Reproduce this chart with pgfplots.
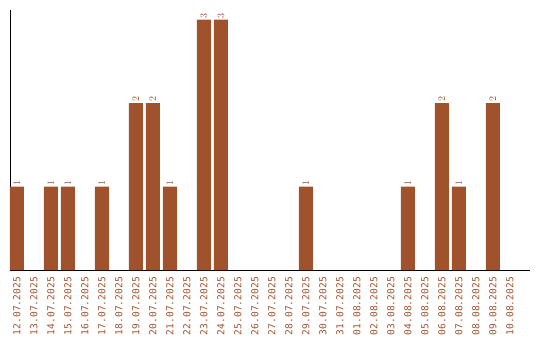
\documentclass[border=0pt]{standalone}
\usepackage{pgfplots}
\pgfplotsset{compat=1.18}
\usepackage{fontspec}
\setmonofont{DejaVu Sans Mono}
\definecolor{barc}{HTML}{A0522D}
\begin{document}
\begin{tikzpicture}
\path[use as bounding box] (-10pt,-70pt) rectangle (530pt,270pt);
\begin{axis}[
  at={(0,0)}, anchor=south west,
  scale only axis, width=520pt, height=260pt,
  xmin=-0.41, xmax=30.18, ymin=0, ymax=3.115,
  axis x line=bottom, axis y line=left,
  axis line style={-, black, line width=1pt},
  ytick=\empty,
  xtick={0,...,29},
  xticklabels={12.07.2025,13.07.2025,14.07.2025,15.07.2025,16.07.2025,17.07.2025,18.07.2025,19.07.2025,20.07.2025,21.07.2025,22.07.2025,23.07.2025,24.07.2025,25.07.2025,26.07.2025,27.07.2025,28.07.2025,29.07.2025,30.07.2025,31.07.2025,01.08.2025,02.08.2025,03.08.2025,04.08.2025,05.08.2025,06.08.2025,07.08.2025,08.08.2025,09.08.2025,10.08.2025},
  major tick length=0pt,
  xticklabel style={rotate=90, anchor=east, inner sep=0pt, xshift=-7pt, text=barc, font=\ttfamily\fontsize{9.6}{10}\selectfont},
  nodes near coords,
  nodes near coords style={rotate=90, anchor=west, inner sep=1pt, text=barc, font=\ttfamily\fontsize{9.6}{10}\selectfont},
  clip=false,
]
\addplot[ybar, bar width=14pt, fill=barc, draw=none] coordinates {
(0,1) (2,1) (3,1) (5,1) (7,2) (8,2) (9,1) (11,3) (12,3) (17,1) (23,1) (25,2) (26,1) (28,2)
};
\end{axis}
\end{tikzpicture}
\end{document}
